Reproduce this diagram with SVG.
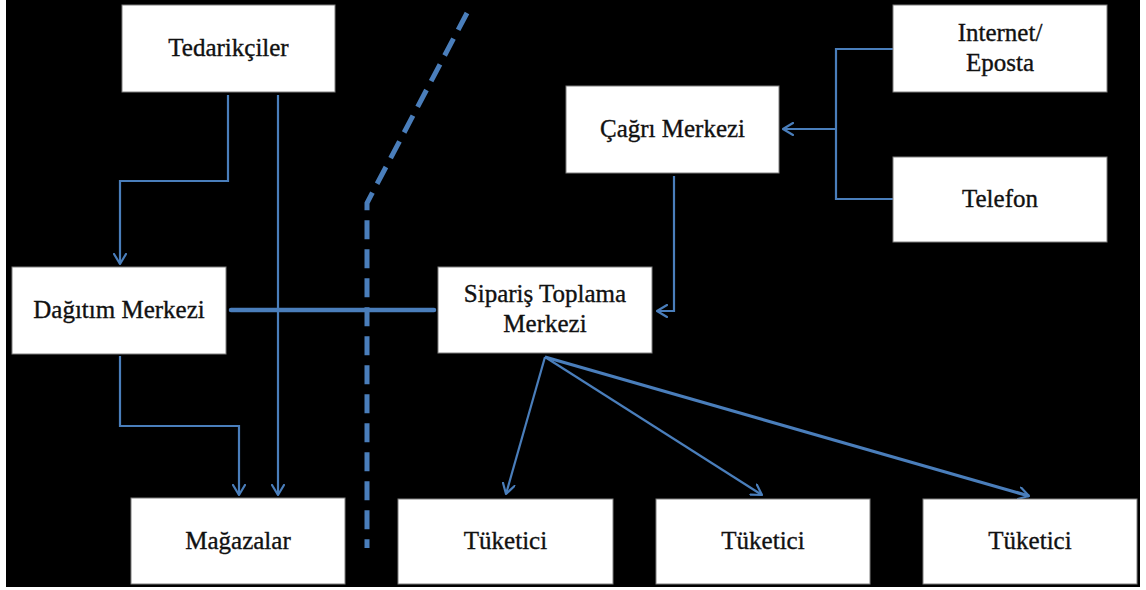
<svg xmlns="http://www.w3.org/2000/svg" width="1146" height="590" viewBox="0 0 1146 590">
  <defs>
    <style>
      .box { fill: #ffffff; stroke: #7f7f7f; stroke-width: 1; }
      .lbl { font-size: 25px; fill: #111111; stroke: #111111; stroke-width: 0.35; text-anchor: middle; }
      .ln { fill: none; stroke: #4a7ebb; stroke-width: 2.2; stroke-linejoin: miter; }
      .thick { stroke-width: 3.2; }
      .bar { fill: none; stroke: #4a7ebb; stroke-width: 4.5; stroke-linecap: round; }
      .dash { fill: none; stroke: #4a7ebb; stroke-width: 5; stroke-dasharray: 19 10; }
    </style>
    <marker id="arr" viewBox="0 0 12 14" refX="11" refY="7" markerWidth="12" markerHeight="14" markerUnits="userSpaceOnUse" orient="auto">
      <path d="M1,1 L11,7 L1,13" fill="none" stroke="#4a7ebb" stroke-width="2.2" stroke-linecap="round" stroke-linejoin="round"/>
    </marker>
  </defs>

  <rect x="0" y="0" width="1146" height="590" fill="#ffffff"/>
  <rect x="6" y="0" width="1134" height="587" fill="#000000"/>

  <!-- boundary between store and direct channels -->
  <path class="dash" d="M467,13 L367,203 L367,548"/>

  <g id="connectors">
    <!-- suppliers to distribution centre -->
    <path class="ln" d="M228,95 L228,181 L120,181 L120,264" marker-end="url(#arr)"/>
    <!-- suppliers to stores -->
    <path class="ln" d="M278,95 L278,495" marker-end="url(#arr)"/>
    <!-- distribution centre to stores -->
    <path class="ln" d="M120,356 L120,426 L239,426 L239,495" marker-end="url(#arr)"/>
    <!-- distribution centre link to order centre -->
    <path class="bar" d="M231,310 L434,310"/>
    <!-- call centre to order centre -->
    <path class="ln" d="M674,176 L674,311 L657,311" marker-end="url(#arr)"/>
    <!-- internet / phone into call centre -->
    <path class="ln" d="M893,49 L836,49 L836,199 L893,199"/>
    <path class="ln" d="M836,129 L783,129" marker-end="url(#arr)"/>
    <!-- order centre to consumers -->
    <path class="ln" d="M545,357 L506,494" marker-end="url(#arr)"/>
    <path class="ln" d="M545,357 L762,495" marker-end="url(#arr)"/>
    <path class="ln thick" d="M545,357 L1029,496" marker-end="url(#arr)"/>
  </g>

  <g font-family="'Liberation Serif', 'DejaVu Serif', 'Times New Roman', serif">
    <g id="tedarikciler">
      <rect class="box" x="122" y="5" width="213" height="87"/>
      <text class="lbl" x="228.5" y="56">Tedarikçiler</text>
    </g>
    <g id="dagitim-merkezi">
      <rect class="box" x="12" y="267" width="214" height="87"/>
      <text class="lbl" x="119" y="318">Dağıtım Merkezi</text>
    </g>
    <g id="magazalar">
      <rect class="box" x="131" y="498" width="214" height="86"/>
      <text class="lbl" x="238" y="549">Mağazalar</text>
    </g>
    <g id="siparis-toplama">
      <rect class="box" x="438" y="267" width="214" height="86"/>
      <text class="lbl" x="545" y="302">Sipariş Toplama</text>
      <text class="lbl" x="545" y="332">Merkezi</text>
    </g>
    <g id="cagri-merkezi">
      <rect class="box" x="566" y="86" width="213" height="87"/>
      <text class="lbl" x="672.5" y="137">Çağrı Merkezi</text>
    </g>
    <g id="internet-eposta">
      <rect class="box" x="893" y="5" width="214" height="87"/>
      <text class="lbl" x="1000" y="41">Internet/</text>
      <text class="lbl" x="1000" y="71">Eposta</text>
    </g>
    <g id="telefon">
      <rect class="box" x="893" y="157" width="214" height="85"/>
      <text class="lbl" x="1000" y="207">Telefon</text>
    </g>
    <g id="tuketici-1">
      <rect class="box" x="398" y="499" width="215" height="85"/>
      <text class="lbl" x="505.5" y="549">Tüketici</text>
    </g>
    <g id="tuketici-2">
      <rect class="box" x="656" y="499" width="214" height="85"/>
      <text class="lbl" x="763" y="549">Tüketici</text>
    </g>
    <g id="tuketici-3">
      <rect class="box" x="923" y="499" width="214" height="85"/>
      <text class="lbl" x="1030" y="549">Tüketici</text>
    </g>
  </g>
</svg>
